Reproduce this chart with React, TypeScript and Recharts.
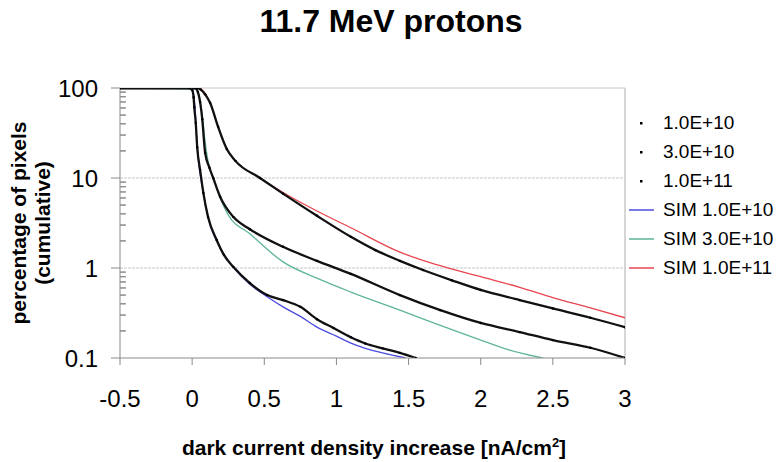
import React from "react"
import {
  LineChart,
  Line,
  XAxis,
  YAxis,
  ReferenceLine,
} from "recharts"

type Pt = { x: number; y: number }

const xTicks = [-0.5, 0, 0.5, 1, 1.5, 2, 2.5, 3]
const yMajorTicks = [0.1, 1, 10, 100]
const yMajorLabels = ["0.1", "1", "10", "100"]
const yMinorSteps = [2, 3, 4, 5, 6, 7, 8, 9]

// measured data (black dots)
const meas1e10: Pt[] = [
  { x: -0.5, y: 100 }, { x: -0.02, y: 100 }, { x: 0, y: 95 }, { x: 0.01, y: 79 },
  { x: 0.015, y: 61 }, { x: 0.025, y: 41 }, { x: 0.035, y: 22 }, { x: 0.055, y: 12.3 },
  { x: 0.078, y: 6.8 }, { x: 0.11, y: 3.7 }, { x: 0.17, y: 2.05 }, { x: 0.22, y: 1.4 },
  { x: 0.285, y: 1.03 }, { x: 0.4, y: 0.68 }, { x: 0.52, y: 0.5 }, { x: 0.63, y: 0.44 },
  { x: 0.75, y: 0.37 }, { x: 0.865, y: 0.27 }, { x: 0.98, y: 0.215 }, { x: 1.1, y: 0.17 },
  { x: 1.2, y: 0.145 }, { x: 1.32, y: 0.128 }, { x: 1.44, y: 0.114 }, { x: 1.55, y: 0.1 },
]
const meas3e10: Pt[] = [
  { x: -0.5, y: 100 }, { x: 0.02, y: 100 }, { x: 0.04, y: 90 }, { x: 0.055, y: 70 },
  { x: 0.07, y: 45 }, { x: 0.09, y: 19 }, { x: 0.12, y: 13 }, { x: 0.146, y: 10 },
  { x: 0.194, y: 6.2 }, { x: 0.285, y: 3.7 }, { x: 0.4, y: 2.7 }, { x: 0.63, y: 1.72 },
  { x: 0.865, y: 1.2 }, { x: 1.1, y: 0.86 }, { x: 1.44, y: 0.5 }, { x: 1.72, y: 0.34 },
  { x: 2.0, y: 0.245 }, { x: 2.27, y: 0.194 }, { x: 2.5, y: 0.158 }, { x: 2.76, y: 0.13 },
  { x: 3.0, y: 0.1 },
]
const meas1e11: Pt[] = [
  { x: -0.5, y: 100 }, { x: 0.035, y: 100 }, { x: 0.06, y: 96 }, { x: 0.09, y: 85 },
  { x: 0.125, y: 68 }, { x: 0.18, y: 37 }, { x: 0.24, y: 21 }, { x: 0.3, y: 15.5 },
  { x: 0.47, y: 10 }, { x: 0.63, y: 6.7 }, { x: 0.865, y: 3.8 }, { x: 1.1, y: 2.22 },
  { x: 1.27, y: 1.58 }, { x: 1.44, y: 1.2 }, { x: 1.6, y: 0.95 }, { x: 1.8, y: 0.73 },
  { x: 2.0, y: 0.57 }, { x: 2.27, y: 0.44 }, { x: 2.5, y: 0.355 }, { x: 2.76, y: 0.28 },
  { x: 3.0, y: 0.22 },
]

// simulations (coloured lines)
const sim1e10: Pt[] = [
  { x: -0.5, y: 100 }, { x: 0, y: 100 }, { x: 0.01, y: 85 }, { x: 0.02, y: 60 },
  { x: 0.03, y: 30 }, { x: 0.045, y: 15 }, { x: 0.06, y: 10 }, { x: 0.08, y: 6.5 },
  { x: 0.11, y: 3.6 }, { x: 0.17, y: 2.0 }, { x: 0.285, y: 1.02 }, { x: 0.4, y: 0.66 },
  { x: 0.52, y: 0.48 }, { x: 0.63, y: 0.37 }, { x: 0.75, y: 0.29 }, { x: 0.865, y: 0.22 },
  { x: 1.0, y: 0.175 }, { x: 1.1, y: 0.146 }, { x: 1.2, y: 0.128 }, { x: 1.32, y: 0.114 },
  { x: 1.48, y: 0.1 },
]
const sim3e10: Pt[] = [
  { x: -0.5, y: 100 }, { x: 0.03, y: 98 }, { x: 0.05, y: 80 }, { x: 0.07, y: 50 },
  { x: 0.09, y: 25 }, { x: 0.12, y: 13 }, { x: 0.146, y: 10 }, { x: 0.194, y: 6.0 },
  { x: 0.25, y: 3.9 }, { x: 0.4, y: 2.4 }, { x: 0.63, y: 1.17 }, { x: 0.865, y: 0.77 },
  { x: 1.1, y: 0.54 }, { x: 1.44, y: 0.34 }, { x: 1.72, y: 0.23 }, { x: 2.0, y: 0.158 },
  { x: 2.2, y: 0.122 }, { x: 2.43, y: 0.1 },
]
const sim1e11: Pt[] = [
  { x: -0.5, y: 100 }, { x: 0.05, y: 100 }, { x: 0.07, y: 95 }, { x: 0.1, y: 82 },
  { x: 0.125, y: 68 }, { x: 0.18, y: 37 }, { x: 0.24, y: 21 }, { x: 0.3, y: 15.5 },
  { x: 0.47, y: 10 }, { x: 0.63, y: 6.9 }, { x: 0.865, y: 4.3 }, { x: 1.1, y: 2.8 },
  { x: 1.44, y: 1.5 }, { x: 1.7, y: 1.08 }, { x: 2.0, y: 0.8 }, { x: 2.27, y: 0.61 },
  { x: 2.5, y: 0.47 }, { x: 2.76, y: 0.36 }, { x: 3.0, y: 0.28 },
]

const legendItems = [
  { name: "1.0E+10", color: "#000", kind: "dot" },
  { name: "3.0E+10", color: "#000", kind: "dot" },
  { name: "1.0E+11", color: "#000", kind: "dot" },
  { name: "SIM 1.0E+10", color: "#4b4be0", kind: "line" },
  { name: "SIM 3.0E+10", color: "#5fb595", kind: "line" },
  { name: "SIM 1.0E+11", color: "#e8454f", kind: "line" },
]

const FONT = '"Liberation Sans", Arial, sans-serif'
const AXIS = "#8a8a8a"
const GRID = "#c8c8c8"

const yMinorTicks = yMajorTicks
  .slice(0, 3)
  .flatMap((d) => yMinorSteps.map((m) => m * d))
const yTicks = [...yMajorTicks, ...yMinorTicks].sort((a, b) => a - b)

const YTick = (props: any) => {
  const { x, y, payload } = props
  const idx = yMajorTicks.findIndex((t) => Math.abs(t - payload.value) < 1e-9)
  if (idx < 0) {
    return <line x1={x} x2={x + 6} y1={y} y2={y} stroke={AXIS} strokeWidth={1} />
  }
  return (
    <g>
      <line x1={x - 9} x2={x} y1={y} y2={y} stroke={AXIS} strokeWidth={1} />
      <text
        x={x - 22}
        y={y}
        textAnchor="end"
        dominantBaseline="central"
        fontSize={24}
        fontFamily={FONT}
        fill="#000"
      >
        {yMajorLabels[idx]}
      </text>
    </g>
  )
}

const LegendBox = () => (
  <div
    style={{
      position: "absolute",
      left: 628,
      top: 108,
      width: 150,
      fontFamily: FONT,
      fontSize: 19,
      color: "#000",
    }}
  >
    {legendItems.map((it) => (
      <div
        key={it.name}
        style={{ display: "flex", alignItems: "center", height: 29, whiteSpace: "nowrap" }}
      >
        <svg width={30} height={10} style={{ marginRight: 5 }}>
          {it.kind === "dot" ? (
            <rect x={12} y={4} width={2.5} height={2.5} fill="#000" />
          ) : (
            <line x1={1} x2={26} y1={5} y2={5} stroke={it.color} strokeWidth={1.5} />
          )}
        </svg>
        <span>{it.name}</span>
      </div>
    ))}
  </div>
)

const measDot = { r: 1.2, fill: "#000", stroke: "none" }

const App: React.FC = () => {
  return (
    <div style={{ position: "absolute", left: 0, top: 0, width: 777, height: 462, background: "#fff" }}>
      <div
        style={{
          position: "absolute",
          left: 0,
          width: 782,
          top: 1,
          textAlign: "center",
          fontFamily: FONT,
          fontWeight: "bold",
          fontSize: 32,
          lineHeight: "40px",
        }}
      >
        11.7 MeV protons
      </div>
      <div
        style={{
          position: "absolute",
          left: 31 - 150,
          top: 223 - 24,
          width: 300,
          height: 48,
          transform: "rotate(-90deg)",
          textAlign: "center",
          fontFamily: FONT,
          fontWeight: "bold",
          fontSize: 21,
          lineHeight: "24px",
        }}
      >
        percentage of pixels
        <br />
        (cumulative)
      </div>
      <div
        style={{
          position: "absolute",
          left: 374 - 400,
          width: 800,
          top: 430,
          textAlign: "center",
          fontFamily: FONT,
          fontWeight: "bold",
          fontSize: 21,
          lineHeight: "26px",
        }}
      >
        dark current density increase [nA/cm<sup style={{ fontSize: 13 }}>2</sup>]
      </div>
      <LegendBox />
      <LineChart
        width={777}
        height={462}
        margin={{ top: 88, right: 152, left: 60, bottom: 44 }}
        style={{ position: "absolute", left: 0, top: 0 }}
      >
        <XAxis
          dataKey="x"
          type="number"
          domain={[-0.5, 3]}
          ticks={xTicks}
          allowDataOverflow
          height={60}
          stroke={AXIS}
          tickSize={7}
          tickMargin={25}
          tick={{ fill: "#000", fontSize: 24, fontFamily: FONT }}
          tickFormatter={(v: number) => String(v)}
        />
        <YAxis
          dataKey="y"
          type="number"
          scale="log"
          domain={[0.1, 100]}
          ticks={yTicks}
          allowDataOverflow
          width={60}
          stroke={AXIS}
          tickLine={false}
          tickSize={0}
          tickMargin={0}
          tick={<YTick />}
          interval={0}
          minTickGap={0}
        />
        <ReferenceLine y={10} stroke={GRID} strokeDasharray="3 1" />
        <ReferenceLine y={1} stroke={GRID} strokeDasharray="3 1" />
        <ReferenceLine y={100} stroke={GRID} />
        <ReferenceLine x={3} stroke={GRID} strokeWidth={1.5} />
        {yMinorTicks.map((v) => (
          <ReferenceLine
            key={v}
            segment={[{ x: -0.5, y: v }, { x: -0.46, y: v }]}
            stroke={AXIS}
            strokeWidth={1}
          />
        ))}
        <Line data={sim1e10} dataKey="y" type="monotone" stroke="#4b4be0" strokeWidth={1.3} dot={false} isAnimationActive={false} />
        <Line data={sim3e10} dataKey="y" type="monotone" stroke="#5fb595" strokeWidth={1.3} dot={false} isAnimationActive={false} />
        <Line data={sim1e11} dataKey="y" type="monotone" stroke="#e8454f" strokeWidth={1.3} dot={false} isAnimationActive={false} />
        <Line data={meas1e10} dataKey="y" type="monotone" stroke="#111" strokeWidth={2.3} dot={measDot} isAnimationActive={false} />
        <Line data={meas3e10} dataKey="y" type="monotone" stroke="#111" strokeWidth={2.3} dot={measDot} isAnimationActive={false} />
        <Line data={meas1e11} dataKey="y" type="monotone" stroke="#111" strokeWidth={2.3} dot={measDot} isAnimationActive={false} />
      </LineChart>
    </div>
  )
}

export default App
